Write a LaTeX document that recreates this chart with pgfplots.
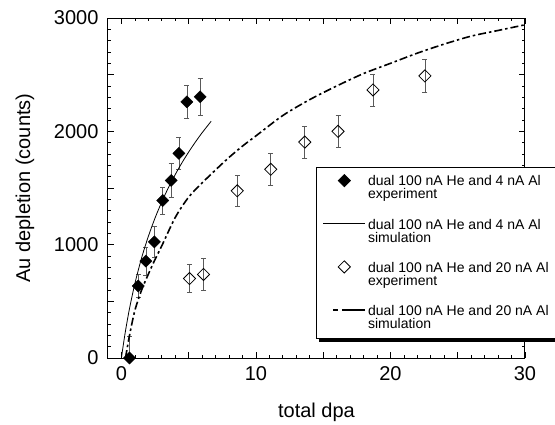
\documentclass[border=0pt]{standalone}
\usepackage{pgfplots}
\pgfplotsset{compat=1.18}
\usepackage{fontspec}
\setmainfont{Liberation Sans}
\pgfplotsset{
  markleg/.style={legend image code/.code={\draw[mark repeat=2,mark phase=2,##1] plot coordinates {(0pt,7.5pt) (21pt,7.5pt) (42pt,7.5pt)};}},
  lineleg/.style={legend image code/.code={\draw[##1] (0pt,7.5pt) -- (42pt,7.5pt);}},
  dashleg/.style={legend image code/.code={\draw[##1, dash pattern=on 4.5pt off 4pt on 40pt] (10pt,7.5pt) -- (42pt,7.5pt);}},
}
\begin{document}
\begin{tikzpicture}
\begin{axis}[
  at={(0pt,0pt)}, anchor=south west,
  scale only axis, width=417pt, height=340pt,
  xmin=-1, xmax=30, ymin=0, ymax=3000,
  xtick={0,5,...,30}, xticklabels={0,,10,,20,,30},
  ytick={0,500,...,3000}, yticklabels={0,,1000,,2000,,3000},
  minor x tick num=4, minor y tick num=4,
  major tick length=6pt, minor tick length=3pt,
  tick align=inside,
  tick style={black, line width=0.8pt},
  axis line style={line width=1pt},
  /pgf/number format/assume math mode=true,
  /pgf/number format/1000 sep={},
  tick label style={font=\fontsize{20}{24}\selectfont},
  yticklabel style={xshift=-6pt},
  xticklabel style={yshift=-5pt},
  every axis x label/.style={at={(axis description cs:0.5,-0.176)},anchor=base},
  every axis y label/.style={at={(axis description cs:-0.199,0.5)},rotate=90,anchor=center},
  label style={font=\fontsize{20}{24}\selectfont},
  xlabel={total dpa}, ylabel={Au depletion (counts)},
  legend style={name=leg, at={(0.5,0.562)}, anchor=north west,
    font=\fontsize{14}{13}\selectfont, draw=black, line width=0.8pt,
    fill=white,
    row sep=14.5pt, inner xsep=6pt, inner ysep=6.5pt,
    cells={align=left, anchor=west}},
  error bars/error bar style={gray!70!black, line width=0.6pt},
  error bars/error mark options={rotate=90, mark size=2.5pt, gray!70!black, line width=0.6pt},
]
% 4 nA experiment
\addplot[only marks, mark=square*, mark size=4.3pt, mark options={rotate=45, fill=black, draw=black},
  markleg, error bars/.cd, y dir=both, y explicit]
  coordinates {
  (0.6,0) +- (0,190)
  (1.25,635) +- (0,103)
  (1.82,855) +- (0,125)
  (2.45,1025) +- (0,140)
  (3.07,1390) +- (0,120)
  (3.7,1567) +- (0,150)
  (4.27,1806) +- (0,145)
  (4.86,2260) +- (0,145)
  (5.85,2305) +- (0,160)
};
\addlegendentry{dual 100 nA He and 4 nA Al\\experiment}
% 4 nA simulation
\addplot[black, line width=0.8pt, smooth, no marks, lineleg]
  coordinates {
  (0,0) (0.1,85) (0.3,239) (0.6,437) (1,657) (1.5,884) (2,1073) (2.5,1236)
  (3,1378) (3.5,1505) (4,1619) (4.5,1723) (5,1818) (5.5,1906) (6,1988) (6.67,2089)
};
\addlegendentry{dual 100 nA He and 4 nA Al\\simulation}
% 20 nA experiment
\addplot[only marks, mark=square, mark size=4.3pt, mark options={rotate=45, fill=white, draw=black, line width=0.8pt},
  markleg, error bars/.cd, y dir=both, y explicit]
  coordinates {
  (5.06,701) +- (0,125)
  (6.1,737) +- (0,140)
  (8.61,1475) +- (0,135)
  (11.1,1665) +- (0,140)
  (13.63,1905) +- (0,140)
  (16.1,2000) +- (0,140)
  (18.7,2365) +- (0,140)
  (22.56,2489) +- (0,145)
};
\addlegendentry{dual 100 nA He and 20 nA Al\hspace*{10pt}\\experiment}
% 20 nA simulation
\addplot[black, line width=1.6pt, smooth, no marks,
  dash pattern=on 8pt off 3pt on 2.5pt off 3pt, dashleg]
  coordinates {
  (0.3,0) (0.6,200) (1,420) (1.5,600) (2,740) (2.5,870) (3,990) (4,1240)
  (5,1420) (6,1545) (7,1660) (8,1770) (9,1870) (10,1960) (12,2140) (14,2280)
  (16,2400) (18,2510) (20,2600) (22,2690) (24,2770) (26,2840) (28,2890) (30,2940)
};
\addlegendentry{dual 100 nA He and 20 nA Al\\simulation}
\end{axis}
\fill[black] ([xshift=2.5pt,yshift=-0.4pt]leg.south west) rectangle ([xshift=2.5pt,yshift=-3pt]leg.south east);
\fill[black] ([xshift=0.4pt,yshift=-2.5pt]leg.north east) rectangle ([xshift=3pt,yshift=-3pt]leg.south east);
\pgfresetboundingbox
\path (-108pt,-66pt) rectangle (447pt,358pt);
\end{tikzpicture}
\end{document}
